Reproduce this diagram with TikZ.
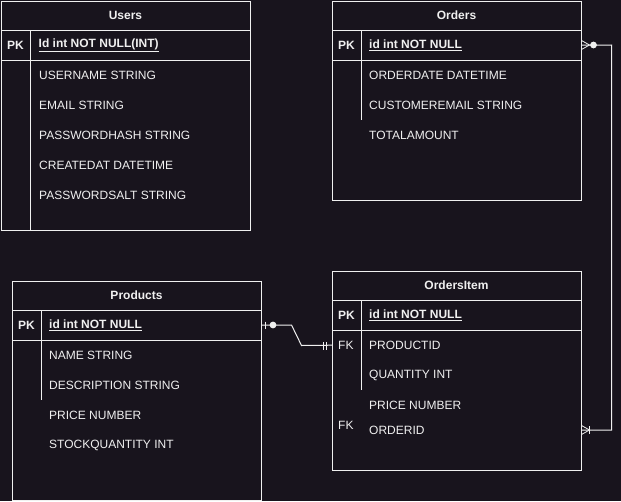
\documentclass[tikz,border=0pt]{standalone}
\usepackage{fontspec}
\setmainfont{Liberation Sans}
\definecolor{bg}{HTML}{18141D}
\definecolor{fg}{HTML}{F0F0F0}
\begin{document}
\begin{tikzpicture}[x=1pt,y=-1pt,
  tbl/.style={draw=fg, line width=1pt, fill=bg, anchor=north west, inner sep=0pt},
  rowbox/.style={anchor=north west, inner sep=0pt, minimum width=249pt, minimum height=30pt},
  txt/.style={anchor=west, inner sep=0pt, text=fg, font=\fontsize{12}{14}\selectfont},
  ttl/.style={inner sep=0pt, text=fg, font=\fontsize{12}{14}\selectfont\bfseries},
  pk/.style={anchor=west, inner sep=0pt, text=fg, font=\fontsize{12}{14}\selectfont\bfseries},
  key/.style={anchor=west, inner sep=0pt, text=fg, font=\fontsize{12}{14}\selectfont},
  ln/.style={draw=fg, line width=1pt},
  conn/.style={draw=fg, line width=1pt},
  dot/.style={fill=fg, draw=none}]
\fill[bg] (0,0) rectangle (621,501);
\useasboundingbox (0,0) rectangle (621,501);

% ---------- Users ----------
\node[tbl, minimum width=249pt, minimum height=229pt] (users) at (1,1) {};
\draw[ln] (1,30) -- (250,30);
\draw[ln] (1,60) -- (250,60);
\draw[ln] (30,30) -- (30,230);
\node[ttl] (usersT) at (125.5,15.5) {Users};
\node[pk] (usersPKk) at (7,45.5) {PK};
\node[pk] (usersPK) at (38.5,45.5) {\underline{Id int NOT NULL(INT)}};
\node[txt] (u1) at (39,75.5) {USERNAME STRING};
\node[txt] (u2) at (39,105.5) {EMAIL STRING};
\node[txt] (u3) at (39,135.5) {PASSWORDHASH STRING};
\node[txt] (u4) at (39,165.5) {CREATEDAT DATETIME};
\node[txt] (u5) at (39,195.5) {PASSWORDSALT STRING};

% ---------- Orders ----------
\node[tbl, minimum width=249pt, minimum height=199pt] (orders) at (332,1) {};
\draw[ln] (332,30) -- (581,30);
\draw[ln] (332,60) -- (581,60);
\draw[ln] (361.5,30) -- (361.5,120);
\node[rowbox] (ordersPKrow) at (332,30) {};
\node[ttl] (ordersT) at (456.5,15.5) {Orders};
\node[pk] (ordersPKk) at (338,45.5) {PK};
\node[pk] (ordersPK) at (369,45.5) {\underline{id int NOT NULL}};
\node[txt] (o1) at (369,75.5) {ORDERDATE DATETIME};
\node[txt] (o2) at (369,105.5) {CUSTOMEREMAIL STRING};
\node[txt] (o3) at (369,135.5) {TOTALAMOUNT};

% ---------- Products ----------
\node[tbl, minimum width=249pt, minimum height=219pt] (products) at (12,281) {};
\draw[ln] (12,310) -- (261,310);
\draw[ln] (12,340) -- (261,340);
\draw[ln] (41.5,310) -- (41.5,400);
\node[rowbox] (productsPKrow) at (12,310) {};
\node[ttl] (productsT) at (136.5,295.5) {Products};
\node[pk] (productsPKk) at (18,325.5) {PK};
\node[pk] (productsPK) at (49,325.5) {\underline{id int NOT NULL}};
\node[txt] (p1) at (49,355.5) {NAME STRING};
\node[txt] (p2) at (49,385.5) {DESCRIPTION STRING};
\node[txt] (p3) at (49,415.5) {PRICE NUMBER};
\node[txt] (p4) at (49,445.5) {STOCKQUANTITY INT};

% ---------- OrdersItem ----------
\node[tbl, minimum width=249pt, minimum height=199pt] (oi) at (332,271) {};
\draw[ln] (332,300) -- (581,300);
\draw[ln] (332,330) -- (581,330);
\draw[ln] (361.5,300) -- (361.5,390);
\node[rowbox] (oiFKrow) at (332,330) {};
\node[rowbox] (oiOrderrow) at (332,415) {};
\node[ttl] (oiT) at (456.5,285.5) {OrdersItem};
\node[pk] (oiPKk) at (338,315.5) {PK};
\node[pk] (oiPK) at (369,315.5) {\underline{id int NOT NULL}};
\node[key] (oiFK1) at (338,345.5) {FK};
\node[txt] (i1) at (369,345.5) {PRODUCTID};
\node[txt] (i2) at (369,375.5) {QUANTITY INT};
\node[txt] (i3) at (369,405.5) {PRICE NUMBER};
\node[key] (oiFK2) at (338,425.5) {FK};
\node[txt] (i4) at (369,430.5) {ORDERID};

% ---------- Connector Products -> OrdersItem ----------
\draw[conn] (productsPKrow.east) -- (291.5,325) -- (301.5,345.5) -- (oiFKrow.west);
\draw[conn] (265,321.5) -- (265,329);
\fill[dot] (273,325) circle (3.4);
\draw[conn] (323,342) -- (323,349.5);
\draw[conn] (326.5,342) -- (326.5,349.5);

% ---------- Connector Orders -> OrdersItem ----------
\draw[conn] (ordersPKrow.east) -- (611.5,45) -- (611.5,430) -- (oiOrderrow.east);
\draw[conn, line width=0.8pt] (581.5,40.5) -- (589.5,45) -- (581.5,49.5);
\fill[dot] (593.5,45) circle (3.4);
\draw[conn, line width=0.8pt] (581.5,425.5) -- (589.5,430) -- (581.5,434.5);
\draw[conn] (589.5,426) -- (589.5,434);
\end{tikzpicture}
\end{document}
